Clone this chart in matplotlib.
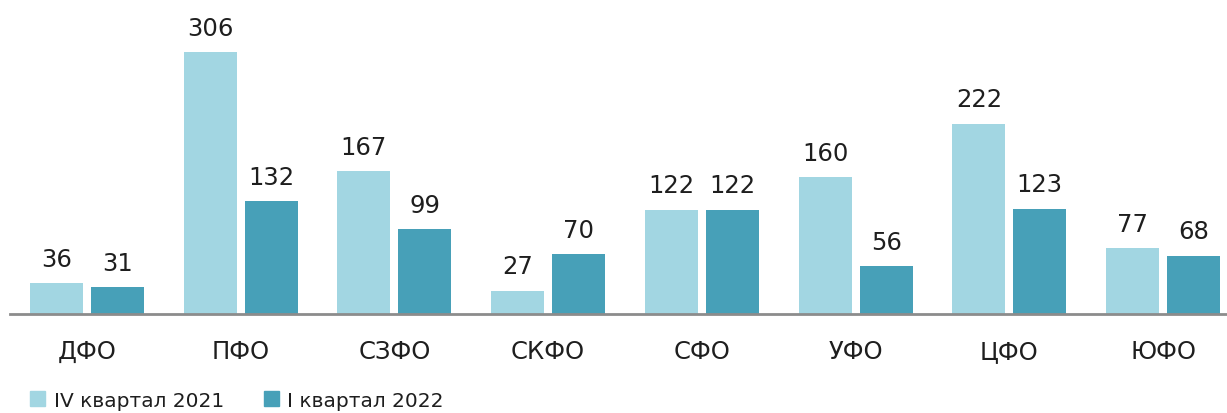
import numpy as np
import matplotlib.pyplot as plt
from matplotlib.patches import Patch

plt.rcParams['font.family'] = ['DejaVu Sans']

# federal districts and counts per quarter
districts = ["ДФО", "ПФО", "СЗФО", "СКФО", "СФО", "УФО", "ЦФО", "ЮФО"]
q4_2021 = [36, 306, 167, 27, 122, 160, 222, 77]
q1_2022 = [31, 132, 99, 70, 122, 56, 123, 68]
series_names = ["IV квартал 2021", "I квартал 2022"]

light = "#A2D6E2"
dark = "#47A0B8"
text_col = "#1e1e1e"

fig = plt.figure(figsize=(12.27, 4.14), dpi=100)
ax = fig.add_axes([10 / 1227, 99 / 414, 1230 / 1227, 315 / 414])

x = np.arange(len(districts))
w = 0.345
off = 0.198
b1 = ax.bar(x - off, q4_2021, w, color=light)
b2 = ax.bar(x + off, q1_2022, w, color=dark)

for bars, vals in ((b1, q4_2021), (b2, q1_2022)):
    for r, v in zip(bars, vals):
        ax.annotate(str(v), (r.get_x() + r.get_width() / 2, v),
                    xytext=(0, 9), textcoords="offset points",
                    ha="center", va="bottom", fontsize=17.5, color=text_col)

ax.set_xlim(-0.5, 7.5)
ax.set_ylim(0, 368)
ax.set_xticks(x)
ax.set_xticklabels(districts, fontsize=17.5, color=text_col)
ax.tick_params(axis="x", length=0, pad=18)
ax.set_yticks([])
for s in ("top", "right", "left"):
    ax.spines[s].set_visible(False)
ax.spines["bottom"].set_color("#8c8c8c")
ax.spines["bottom"].set_linewidth(2)

handles = [Patch(color=light), Patch(color=dark)]
fig.legend(handles, series_names, loc="lower left", bbox_to_anchor=(0.01, -0.036),
           ncol=2, frameon=False, fontsize=14.5, handlelength=0.75, handleheight=0.75,
           handletextpad=0.4, columnspacing=2.0, labelcolor=text_col)

fig.savefig("out.png", dpi=100)
